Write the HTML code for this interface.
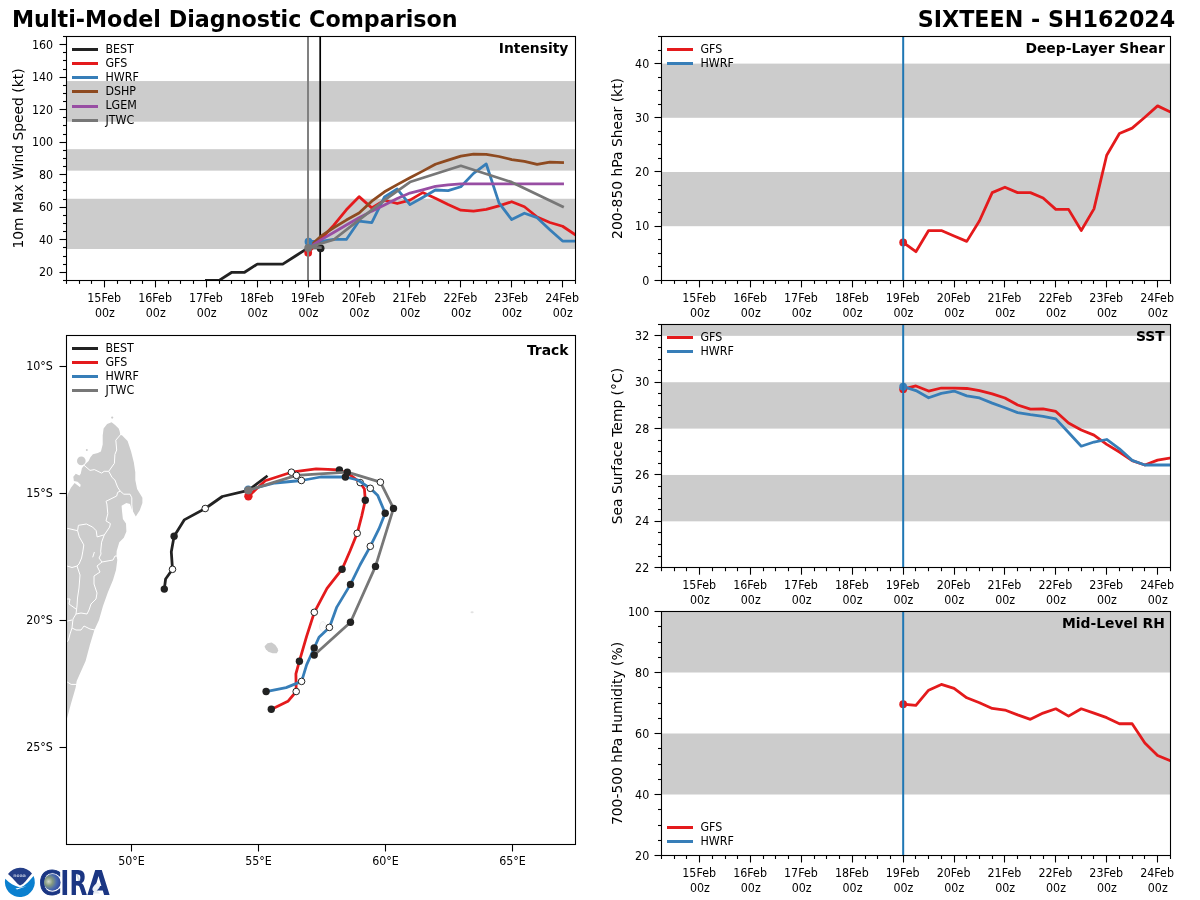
<!DOCTYPE html>
<html><head><meta charset="utf-8"><title>Multi-Model Diagnostic Comparison</title>
<style>html,body{margin:0;padding:0;background:#fff;}svg{display:block;}</style></head>
<body>
<svg width="1200" height="900" viewBox="0 0 1200 900" font-family="'DejaVu Sans', 'Liberation Sans', sans-serif">
<rect width="1200" height="900" fill="#fff"/>
<defs>
<clipPath id="c1"><rect x="66.5" y="36.5" width="508.79999999999995" height="243.89999999999998"/></clipPath>
<clipPath id="c3"><rect x="661.5" y="36.5" width="508.79999999999995" height="243.89999999999998"/></clipPath>
<clipPath id="c4"><rect x="661.5" y="324.5" width="508.79999999999995" height="243.20000000000005"/></clipPath>
<clipPath id="c5"><rect x="661.5" y="611.5" width="508.79999999999995" height="244.0"/></clipPath>
<clipPath id="c2"><rect x="66.5" y="335.5" width="508.8" height="508.8"/></clipPath>
</defs>
<text x="12.00" y="26.90" font-size="22.22" text-anchor="start" font-weight="bold" fill="#000">Multi-Model Diagnostic Comparison</text>
<text x="1175.30" y="26.90" font-size="22.22" text-anchor="end" font-weight="bold" fill="#000">SIXTEEN - SH162024</text>
<rect x="66.50" y="198.77" width="508.80" height="50.24" fill="#cccccc"/>
<rect x="66.50" y="149.18" width="508.80" height="21.46" fill="#cccccc"/>
<rect x="66.50" y="81.05" width="508.80" height="40.65" fill="#cccccc"/>
<g clip-path="url(#c1)">
<line x1="320.20" y1="36.50" x2="320.20" y2="280.40" stroke="#000" stroke-width="1.7" stroke-linecap="butt"/>
<polyline points="206.42,280.40 219.14,280.40 231.86,272.27 244.58,272.27 257.30,264.14 270.02,264.14 282.74,264.14 295.46,256.01 308.18,247.88 320.90,247.88" fill="none" stroke="#222222" stroke-width="2.78" stroke-linecap="square" stroke-linejoin="round"/>
<circle cx="320.60" cy="248.28" r="3.9" fill="#222222"/>
<polyline points="308.18,252.76 320.90,238.94 333.62,225.44 346.34,209.83 359.06,196.66 371.78,207.88 384.50,200.24 397.22,203.49 409.94,200.08 422.66,192.60 435.38,198.29 448.10,204.47 460.82,210.16 473.54,211.13 486.26,209.34 498.98,205.93 511.70,201.70 524.42,206.74 537.14,216.99 549.86,222.51 562.58,226.25 575.30,234.71" fill="none" stroke="#e41a1c" stroke-width="2.78" stroke-linecap="square" stroke-linejoin="round"/>
<polyline points="308.18,241.38 320.90,241.38 333.62,239.42 346.34,239.42 359.06,221.05 371.78,222.51 384.50,196.99 397.22,189.02 409.94,204.63 422.66,197.47 435.38,189.99 448.10,190.64 460.82,186.74 473.54,173.41 486.26,163.98 498.98,202.84 511.70,219.59 524.42,213.25 537.14,217.64 549.86,229.67 562.58,241.05 575.30,241.05" fill="none" stroke="#377eb8" stroke-width="2.78" stroke-linecap="square" stroke-linejoin="round"/>
<polyline points="308.18,247.88 320.90,236.17 333.62,227.72 346.34,220.08 359.06,213.08 371.78,201.21 384.50,191.78 397.22,184.63 409.94,177.80 422.66,171.13 435.38,164.30 448.10,160.08 460.82,156.17 473.54,154.22 486.26,154.38 498.98,156.50 511.70,159.59 524.42,161.38 537.14,164.47 549.86,162.03 562.58,162.51" fill="none" stroke="#8e4a20" stroke-width="2.78" stroke-linecap="square" stroke-linejoin="round"/>
<polyline points="308.18,247.88 320.90,239.91 333.62,232.43 346.34,224.95 359.06,217.80 371.78,211.13 384.50,204.95 397.22,198.45 409.94,193.08 422.66,189.83 435.38,186.42 448.10,184.79 460.82,183.82 473.54,183.82 486.26,183.82 498.98,183.82 511.70,183.82 524.42,183.82 537.14,183.82 549.86,183.82 562.58,183.82" fill="none" stroke="#984ea3" stroke-width="2.78" stroke-linecap="square" stroke-linejoin="round"/>
<polyline points="308.18,247.23 333.62,239.75 359.06,219.91 384.50,200.08 409.94,182.03 460.82,165.77 511.70,182.19 562.58,206.74" fill="none" stroke="#777777" stroke-width="2.78" stroke-linecap="square" stroke-linejoin="round"/>
<circle cx="308.18" cy="252.76" r="3.9" fill="#e41a1c"/>
<circle cx="308.48" cy="241.70" r="3.9" fill="#377eb8"/>
<line x1="308.00" y1="36.50" x2="308.00" y2="280.40" stroke="#808080" stroke-width="2.0" stroke-linecap="butt"/>
<polyline points="308.18,247.39 320.30,247.55" fill="none" stroke="#777777" stroke-width="2.78" stroke-linecap="square" stroke-linejoin="round"/>
<circle cx="308.18" cy="247.88" r="3.9" fill="#777777"/>
</g>
<rect x="66.50" y="36.50" width="509.00" height="244.00" fill="none" stroke="#000" stroke-width="1.1" stroke-linejoin="miter" stroke-linecap="square"/>
<line x1="66.50" y1="280.40" x2="66.50" y2="283.90" stroke="#000" stroke-width="1.1" stroke-linecap="butt"/>
<line x1="79.50" y1="280.40" x2="79.50" y2="283.90" stroke="#000" stroke-width="1.1" stroke-linecap="butt"/>
<line x1="91.50" y1="280.40" x2="91.50" y2="283.90" stroke="#000" stroke-width="1.1" stroke-linecap="butt"/>
<line x1="104.50" y1="280.40" x2="104.50" y2="287.40" stroke="#000" stroke-width="1.1" stroke-linecap="butt"/>
<line x1="117.50" y1="280.40" x2="117.50" y2="283.90" stroke="#000" stroke-width="1.1" stroke-linecap="butt"/>
<line x1="130.50" y1="280.40" x2="130.50" y2="283.90" stroke="#000" stroke-width="1.1" stroke-linecap="butt"/>
<line x1="142.50" y1="280.40" x2="142.50" y2="283.90" stroke="#000" stroke-width="1.1" stroke-linecap="butt"/>
<line x1="155.50" y1="280.40" x2="155.50" y2="287.40" stroke="#000" stroke-width="1.1" stroke-linecap="butt"/>
<line x1="168.50" y1="280.40" x2="168.50" y2="283.90" stroke="#000" stroke-width="1.1" stroke-linecap="butt"/>
<line x1="180.50" y1="280.40" x2="180.50" y2="283.90" stroke="#000" stroke-width="1.1" stroke-linecap="butt"/>
<line x1="193.50" y1="280.40" x2="193.50" y2="283.90" stroke="#000" stroke-width="1.1" stroke-linecap="butt"/>
<line x1="206.50" y1="280.40" x2="206.50" y2="287.40" stroke="#000" stroke-width="1.1" stroke-linecap="butt"/>
<line x1="219.50" y1="280.40" x2="219.50" y2="283.90" stroke="#000" stroke-width="1.1" stroke-linecap="butt"/>
<line x1="231.50" y1="280.40" x2="231.50" y2="283.90" stroke="#000" stroke-width="1.1" stroke-linecap="butt"/>
<line x1="244.50" y1="280.40" x2="244.50" y2="283.90" stroke="#000" stroke-width="1.1" stroke-linecap="butt"/>
<line x1="257.50" y1="280.40" x2="257.50" y2="287.40" stroke="#000" stroke-width="1.1" stroke-linecap="butt"/>
<line x1="270.50" y1="280.40" x2="270.50" y2="283.90" stroke="#000" stroke-width="1.1" stroke-linecap="butt"/>
<line x1="282.50" y1="280.40" x2="282.50" y2="283.90" stroke="#000" stroke-width="1.1" stroke-linecap="butt"/>
<line x1="295.50" y1="280.40" x2="295.50" y2="283.90" stroke="#000" stroke-width="1.1" stroke-linecap="butt"/>
<line x1="308.50" y1="280.40" x2="308.50" y2="287.40" stroke="#000" stroke-width="1.1" stroke-linecap="butt"/>
<line x1="320.50" y1="280.40" x2="320.50" y2="283.90" stroke="#000" stroke-width="1.1" stroke-linecap="butt"/>
<line x1="333.50" y1="280.40" x2="333.50" y2="283.90" stroke="#000" stroke-width="1.1" stroke-linecap="butt"/>
<line x1="346.50" y1="280.40" x2="346.50" y2="283.90" stroke="#000" stroke-width="1.1" stroke-linecap="butt"/>
<line x1="359.50" y1="280.40" x2="359.50" y2="287.40" stroke="#000" stroke-width="1.1" stroke-linecap="butt"/>
<line x1="371.50" y1="280.40" x2="371.50" y2="283.90" stroke="#000" stroke-width="1.1" stroke-linecap="butt"/>
<line x1="384.50" y1="280.40" x2="384.50" y2="283.90" stroke="#000" stroke-width="1.1" stroke-linecap="butt"/>
<line x1="397.50" y1="280.40" x2="397.50" y2="283.90" stroke="#000" stroke-width="1.1" stroke-linecap="butt"/>
<line x1="409.50" y1="280.40" x2="409.50" y2="287.40" stroke="#000" stroke-width="1.1" stroke-linecap="butt"/>
<line x1="422.50" y1="280.40" x2="422.50" y2="283.90" stroke="#000" stroke-width="1.1" stroke-linecap="butt"/>
<line x1="435.50" y1="280.40" x2="435.50" y2="283.90" stroke="#000" stroke-width="1.1" stroke-linecap="butt"/>
<line x1="448.50" y1="280.40" x2="448.50" y2="283.90" stroke="#000" stroke-width="1.1" stroke-linecap="butt"/>
<line x1="460.50" y1="280.40" x2="460.50" y2="287.40" stroke="#000" stroke-width="1.1" stroke-linecap="butt"/>
<line x1="473.50" y1="280.40" x2="473.50" y2="283.90" stroke="#000" stroke-width="1.1" stroke-linecap="butt"/>
<line x1="486.50" y1="280.40" x2="486.50" y2="283.90" stroke="#000" stroke-width="1.1" stroke-linecap="butt"/>
<line x1="498.50" y1="280.40" x2="498.50" y2="283.90" stroke="#000" stroke-width="1.1" stroke-linecap="butt"/>
<line x1="511.50" y1="280.40" x2="511.50" y2="287.40" stroke="#000" stroke-width="1.1" stroke-linecap="butt"/>
<line x1="524.50" y1="280.40" x2="524.50" y2="283.90" stroke="#000" stroke-width="1.1" stroke-linecap="butt"/>
<line x1="537.50" y1="280.40" x2="537.50" y2="283.90" stroke="#000" stroke-width="1.1" stroke-linecap="butt"/>
<line x1="549.50" y1="280.40" x2="549.50" y2="283.90" stroke="#000" stroke-width="1.1" stroke-linecap="butt"/>
<line x1="562.50" y1="280.40" x2="562.50" y2="287.40" stroke="#000" stroke-width="1.1" stroke-linecap="butt"/>
<line x1="575.50" y1="280.40" x2="575.50" y2="283.90" stroke="#000" stroke-width="1.1" stroke-linecap="butt"/>
<text transform="translate(104.16 301.60) scale(1 1.11)" font-size="11.11" text-anchor="middle" fill="#000">15Feb</text>
<text transform="translate(104.86 316.60) scale(1 1.11)" font-size="11.11" text-anchor="middle" fill="#000">00z</text>
<text transform="translate(155.04 301.60) scale(1 1.11)" font-size="11.11" text-anchor="middle" fill="#000">16Feb</text>
<text transform="translate(155.74 316.60) scale(1 1.11)" font-size="11.11" text-anchor="middle" fill="#000">00z</text>
<text transform="translate(205.92 301.60) scale(1 1.11)" font-size="11.11" text-anchor="middle" fill="#000">17Feb</text>
<text transform="translate(206.62 316.60) scale(1 1.11)" font-size="11.11" text-anchor="middle" fill="#000">00z</text>
<text transform="translate(256.80 301.60) scale(1 1.11)" font-size="11.11" text-anchor="middle" fill="#000">18Feb</text>
<text transform="translate(257.50 316.60) scale(1 1.11)" font-size="11.11" text-anchor="middle" fill="#000">00z</text>
<text transform="translate(307.68 301.60) scale(1 1.11)" font-size="11.11" text-anchor="middle" fill="#000">19Feb</text>
<text transform="translate(308.38 316.60) scale(1 1.11)" font-size="11.11" text-anchor="middle" fill="#000">00z</text>
<text transform="translate(358.56 301.60) scale(1 1.11)" font-size="11.11" text-anchor="middle" fill="#000">20Feb</text>
<text transform="translate(359.26 316.60) scale(1 1.11)" font-size="11.11" text-anchor="middle" fill="#000">00z</text>
<text transform="translate(409.44 301.60) scale(1 1.11)" font-size="11.11" text-anchor="middle" fill="#000">21Feb</text>
<text transform="translate(410.14 316.60) scale(1 1.11)" font-size="11.11" text-anchor="middle" fill="#000">00z</text>
<text transform="translate(460.32 301.60) scale(1 1.11)" font-size="11.11" text-anchor="middle" fill="#000">22Feb</text>
<text transform="translate(461.02 316.60) scale(1 1.11)" font-size="11.11" text-anchor="middle" fill="#000">00z</text>
<text transform="translate(511.20 301.60) scale(1 1.11)" font-size="11.11" text-anchor="middle" fill="#000">23Feb</text>
<text transform="translate(511.90 316.60) scale(1 1.11)" font-size="11.11" text-anchor="middle" fill="#000">00z</text>
<text transform="translate(562.08 301.60) scale(1 1.11)" font-size="11.11" text-anchor="middle" fill="#000">24Feb</text>
<text transform="translate(562.78 316.60) scale(1 1.11)" font-size="11.11" text-anchor="middle" fill="#000">00z</text>
<line x1="63.00" y1="280.50" x2="66.50" y2="280.50" stroke="#000" stroke-width="1.1" stroke-linecap="butt"/>
<line x1="59.50" y1="272.50" x2="66.50" y2="272.50" stroke="#000" stroke-width="1.1" stroke-linecap="butt"/>
<line x1="63.00" y1="264.50" x2="66.50" y2="264.50" stroke="#000" stroke-width="1.1" stroke-linecap="butt"/>
<line x1="63.00" y1="256.50" x2="66.50" y2="256.50" stroke="#000" stroke-width="1.1" stroke-linecap="butt"/>
<line x1="63.00" y1="247.50" x2="66.50" y2="247.50" stroke="#000" stroke-width="1.1" stroke-linecap="butt"/>
<line x1="59.50" y1="239.50" x2="66.50" y2="239.50" stroke="#000" stroke-width="1.1" stroke-linecap="butt"/>
<line x1="63.00" y1="231.50" x2="66.50" y2="231.50" stroke="#000" stroke-width="1.1" stroke-linecap="butt"/>
<line x1="63.00" y1="223.50" x2="66.50" y2="223.50" stroke="#000" stroke-width="1.1" stroke-linecap="butt"/>
<line x1="63.00" y1="215.50" x2="66.50" y2="215.50" stroke="#000" stroke-width="1.1" stroke-linecap="butt"/>
<line x1="59.50" y1="207.50" x2="66.50" y2="207.50" stroke="#000" stroke-width="1.1" stroke-linecap="butt"/>
<line x1="63.00" y1="199.50" x2="66.50" y2="199.50" stroke="#000" stroke-width="1.1" stroke-linecap="butt"/>
<line x1="63.00" y1="190.50" x2="66.50" y2="190.50" stroke="#000" stroke-width="1.1" stroke-linecap="butt"/>
<line x1="63.00" y1="182.50" x2="66.50" y2="182.50" stroke="#000" stroke-width="1.1" stroke-linecap="butt"/>
<line x1="59.50" y1="174.50" x2="66.50" y2="174.50" stroke="#000" stroke-width="1.1" stroke-linecap="butt"/>
<line x1="63.00" y1="166.50" x2="66.50" y2="166.50" stroke="#000" stroke-width="1.1" stroke-linecap="butt"/>
<line x1="63.00" y1="158.50" x2="66.50" y2="158.50" stroke="#000" stroke-width="1.1" stroke-linecap="butt"/>
<line x1="63.00" y1="150.50" x2="66.50" y2="150.50" stroke="#000" stroke-width="1.1" stroke-linecap="butt"/>
<line x1="59.50" y1="142.50" x2="66.50" y2="142.50" stroke="#000" stroke-width="1.1" stroke-linecap="butt"/>
<line x1="63.00" y1="134.50" x2="66.50" y2="134.50" stroke="#000" stroke-width="1.1" stroke-linecap="butt"/>
<line x1="63.00" y1="125.50" x2="66.50" y2="125.50" stroke="#000" stroke-width="1.1" stroke-linecap="butt"/>
<line x1="63.00" y1="117.50" x2="66.50" y2="117.50" stroke="#000" stroke-width="1.1" stroke-linecap="butt"/>
<line x1="59.50" y1="109.50" x2="66.50" y2="109.50" stroke="#000" stroke-width="1.1" stroke-linecap="butt"/>
<line x1="63.00" y1="101.50" x2="66.50" y2="101.50" stroke="#000" stroke-width="1.1" stroke-linecap="butt"/>
<line x1="63.00" y1="93.50" x2="66.50" y2="93.50" stroke="#000" stroke-width="1.1" stroke-linecap="butt"/>
<line x1="63.00" y1="85.50" x2="66.50" y2="85.50" stroke="#000" stroke-width="1.1" stroke-linecap="butt"/>
<line x1="59.50" y1="77.50" x2="66.50" y2="77.50" stroke="#000" stroke-width="1.1" stroke-linecap="butt"/>
<line x1="63.00" y1="69.50" x2="66.50" y2="69.50" stroke="#000" stroke-width="1.1" stroke-linecap="butt"/>
<line x1="63.00" y1="60.50" x2="66.50" y2="60.50" stroke="#000" stroke-width="1.1" stroke-linecap="butt"/>
<line x1="63.00" y1="52.50" x2="66.50" y2="52.50" stroke="#000" stroke-width="1.1" stroke-linecap="butt"/>
<line x1="59.50" y1="44.50" x2="66.50" y2="44.50" stroke="#000" stroke-width="1.1" stroke-linecap="butt"/>
<line x1="63.00" y1="36.50" x2="66.50" y2="36.50" stroke="#000" stroke-width="1.1" stroke-linecap="butt"/>
<text transform="translate(53.10 276.37) scale(1 1.11)" font-size="11.11" text-anchor="end" fill="#000">20</text>
<text transform="translate(53.10 243.85) scale(1 1.11)" font-size="11.11" text-anchor="end" fill="#000">40</text>
<text transform="translate(53.10 211.33) scale(1 1.11)" font-size="11.11" text-anchor="end" fill="#000">60</text>
<text transform="translate(53.10 178.81) scale(1 1.11)" font-size="11.11" text-anchor="end" fill="#000">80</text>
<text transform="translate(53.10 146.29) scale(1 1.11)" font-size="11.11" text-anchor="end" fill="#000">100</text>
<text transform="translate(53.10 113.77) scale(1 1.11)" font-size="11.11" text-anchor="end" fill="#000">120</text>
<text transform="translate(53.10 81.25) scale(1 1.11)" font-size="11.11" text-anchor="end" fill="#000">140</text>
<text transform="translate(53.10 48.73) scale(1 1.11)" font-size="11.11" text-anchor="end" fill="#000">160</text>
<text x="22.80" y="158.45" font-size="13.89" text-anchor="middle" fill="#000" transform="rotate(-90 22.80 158.45)">10m Max Wind Speed (kt)</text>
<text x="568.40" y="52.90" font-size="13.89" text-anchor="end" font-weight="bold" fill="#000">Intensity</text>
<line x1="73.50" y1="49.50" x2="96.50" y2="49.50" stroke="#222222" stroke-width="3.0" stroke-linecap="square"/>
<text transform="translate(105.40 52.80) scale(1 1.11)" font-size="11.11" text-anchor="start" fill="#000">BEST</text>
<line x1="73.50" y1="63.50" x2="96.50" y2="63.50" stroke="#e41a1c" stroke-width="3.0" stroke-linecap="square"/>
<text transform="translate(105.40 66.95) scale(1 1.11)" font-size="11.11" text-anchor="start" fill="#000">GFS</text>
<line x1="73.50" y1="77.50" x2="96.50" y2="77.50" stroke="#377eb8" stroke-width="3.0" stroke-linecap="square"/>
<text transform="translate(105.40 81.10) scale(1 1.11)" font-size="11.11" text-anchor="start" fill="#000">HWRF</text>
<line x1="73.50" y1="91.50" x2="96.50" y2="91.50" stroke="#8e4a20" stroke-width="3.0" stroke-linecap="square"/>
<text transform="translate(105.40 95.25) scale(1 1.11)" font-size="11.11" text-anchor="start" fill="#000">DSHP</text>
<line x1="73.50" y1="106.50" x2="96.50" y2="106.50" stroke="#984ea3" stroke-width="3.0" stroke-linecap="square"/>
<text transform="translate(105.40 109.40) scale(1 1.11)" font-size="11.11" text-anchor="start" fill="#000">LGEM</text>
<line x1="73.50" y1="120.50" x2="96.50" y2="120.50" stroke="#777777" stroke-width="3.0" stroke-linecap="square"/>
<text transform="translate(105.40 123.55) scale(1 1.11)" font-size="11.11" text-anchor="start" fill="#000">JTWC</text>
<rect x="661.50" y="172.00" width="508.80" height="54.20" fill="#cccccc"/>
<rect x="661.50" y="63.60" width="508.80" height="54.20" fill="#cccccc"/>
<g clip-path="url(#c3)">
<polyline points="903.18,242.46 915.90,251.67 928.62,230.54 941.34,230.54 954.06,235.96 966.78,241.38 979.50,220.78 992.22,192.60 1004.94,187.18 1017.66,192.60 1030.38,192.60 1043.10,198.02 1055.82,209.40 1068.54,209.40 1081.26,230.54 1093.98,208.86 1106.70,155.20 1119.42,133.52 1132.14,128.10 1144.86,117.26 1157.58,105.88 1170.30,111.84" fill="none" stroke="#e41a1c" stroke-width="2.78" stroke-linecap="square" stroke-linejoin="round"/>
<circle cx="903.18" cy="242.46" r="3.9" fill="#e41a1c"/>
<line x1="903.18" y1="36.50" x2="903.18" y2="280.40" stroke="#1f77b4" stroke-width="2.0" stroke-linecap="butt"/>
</g>
<rect x="661.50" y="36.50" width="509.00" height="244.00" fill="none" stroke="#000" stroke-width="1.1" stroke-linejoin="miter" stroke-linecap="square"/>
<line x1="661.50" y1="280.40" x2="661.50" y2="283.90" stroke="#000" stroke-width="1.1" stroke-linecap="butt"/>
<line x1="674.50" y1="280.40" x2="674.50" y2="283.90" stroke="#000" stroke-width="1.1" stroke-linecap="butt"/>
<line x1="686.50" y1="280.40" x2="686.50" y2="283.90" stroke="#000" stroke-width="1.1" stroke-linecap="butt"/>
<line x1="699.50" y1="280.40" x2="699.50" y2="287.40" stroke="#000" stroke-width="1.1" stroke-linecap="butt"/>
<line x1="712.50" y1="280.40" x2="712.50" y2="283.90" stroke="#000" stroke-width="1.1" stroke-linecap="butt"/>
<line x1="725.50" y1="280.40" x2="725.50" y2="283.90" stroke="#000" stroke-width="1.1" stroke-linecap="butt"/>
<line x1="737.50" y1="280.40" x2="737.50" y2="283.90" stroke="#000" stroke-width="1.1" stroke-linecap="butt"/>
<line x1="750.50" y1="280.40" x2="750.50" y2="287.40" stroke="#000" stroke-width="1.1" stroke-linecap="butt"/>
<line x1="763.50" y1="280.40" x2="763.50" y2="283.90" stroke="#000" stroke-width="1.1" stroke-linecap="butt"/>
<line x1="775.50" y1="280.40" x2="775.50" y2="283.90" stroke="#000" stroke-width="1.1" stroke-linecap="butt"/>
<line x1="788.50" y1="280.40" x2="788.50" y2="283.90" stroke="#000" stroke-width="1.1" stroke-linecap="butt"/>
<line x1="801.50" y1="280.40" x2="801.50" y2="287.40" stroke="#000" stroke-width="1.1" stroke-linecap="butt"/>
<line x1="814.50" y1="280.40" x2="814.50" y2="283.90" stroke="#000" stroke-width="1.1" stroke-linecap="butt"/>
<line x1="826.50" y1="280.40" x2="826.50" y2="283.90" stroke="#000" stroke-width="1.1" stroke-linecap="butt"/>
<line x1="839.50" y1="280.40" x2="839.50" y2="283.90" stroke="#000" stroke-width="1.1" stroke-linecap="butt"/>
<line x1="852.50" y1="280.40" x2="852.50" y2="287.40" stroke="#000" stroke-width="1.1" stroke-linecap="butt"/>
<line x1="865.50" y1="280.40" x2="865.50" y2="283.90" stroke="#000" stroke-width="1.1" stroke-linecap="butt"/>
<line x1="877.50" y1="280.40" x2="877.50" y2="283.90" stroke="#000" stroke-width="1.1" stroke-linecap="butt"/>
<line x1="890.50" y1="280.40" x2="890.50" y2="283.90" stroke="#000" stroke-width="1.1" stroke-linecap="butt"/>
<line x1="903.50" y1="280.40" x2="903.50" y2="287.40" stroke="#000" stroke-width="1.1" stroke-linecap="butt"/>
<line x1="915.50" y1="280.40" x2="915.50" y2="283.90" stroke="#000" stroke-width="1.1" stroke-linecap="butt"/>
<line x1="928.50" y1="280.40" x2="928.50" y2="283.90" stroke="#000" stroke-width="1.1" stroke-linecap="butt"/>
<line x1="941.50" y1="280.40" x2="941.50" y2="283.90" stroke="#000" stroke-width="1.1" stroke-linecap="butt"/>
<line x1="954.50" y1="280.40" x2="954.50" y2="287.40" stroke="#000" stroke-width="1.1" stroke-linecap="butt"/>
<line x1="966.50" y1="280.40" x2="966.50" y2="283.90" stroke="#000" stroke-width="1.1" stroke-linecap="butt"/>
<line x1="979.50" y1="280.40" x2="979.50" y2="283.90" stroke="#000" stroke-width="1.1" stroke-linecap="butt"/>
<line x1="992.50" y1="280.40" x2="992.50" y2="283.90" stroke="#000" stroke-width="1.1" stroke-linecap="butt"/>
<line x1="1004.50" y1="280.40" x2="1004.50" y2="287.40" stroke="#000" stroke-width="1.1" stroke-linecap="butt"/>
<line x1="1017.50" y1="280.40" x2="1017.50" y2="283.90" stroke="#000" stroke-width="1.1" stroke-linecap="butt"/>
<line x1="1030.50" y1="280.40" x2="1030.50" y2="283.90" stroke="#000" stroke-width="1.1" stroke-linecap="butt"/>
<line x1="1043.50" y1="280.40" x2="1043.50" y2="283.90" stroke="#000" stroke-width="1.1" stroke-linecap="butt"/>
<line x1="1055.50" y1="280.40" x2="1055.50" y2="287.40" stroke="#000" stroke-width="1.1" stroke-linecap="butt"/>
<line x1="1068.50" y1="280.40" x2="1068.50" y2="283.90" stroke="#000" stroke-width="1.1" stroke-linecap="butt"/>
<line x1="1081.50" y1="280.40" x2="1081.50" y2="283.90" stroke="#000" stroke-width="1.1" stroke-linecap="butt"/>
<line x1="1093.50" y1="280.40" x2="1093.50" y2="283.90" stroke="#000" stroke-width="1.1" stroke-linecap="butt"/>
<line x1="1106.50" y1="280.40" x2="1106.50" y2="287.40" stroke="#000" stroke-width="1.1" stroke-linecap="butt"/>
<line x1="1119.50" y1="280.40" x2="1119.50" y2="283.90" stroke="#000" stroke-width="1.1" stroke-linecap="butt"/>
<line x1="1132.50" y1="280.40" x2="1132.50" y2="283.90" stroke="#000" stroke-width="1.1" stroke-linecap="butt"/>
<line x1="1144.50" y1="280.40" x2="1144.50" y2="283.90" stroke="#000" stroke-width="1.1" stroke-linecap="butt"/>
<line x1="1157.50" y1="280.40" x2="1157.50" y2="287.40" stroke="#000" stroke-width="1.1" stroke-linecap="butt"/>
<line x1="1170.50" y1="280.40" x2="1170.50" y2="283.90" stroke="#000" stroke-width="1.1" stroke-linecap="butt"/>
<text transform="translate(699.16 301.60) scale(1 1.11)" font-size="11.11" text-anchor="middle" fill="#000">15Feb</text>
<text transform="translate(699.86 316.60) scale(1 1.11)" font-size="11.11" text-anchor="middle" fill="#000">00z</text>
<text transform="translate(750.04 301.60) scale(1 1.11)" font-size="11.11" text-anchor="middle" fill="#000">16Feb</text>
<text transform="translate(750.74 316.60) scale(1 1.11)" font-size="11.11" text-anchor="middle" fill="#000">00z</text>
<text transform="translate(800.92 301.60) scale(1 1.11)" font-size="11.11" text-anchor="middle" fill="#000">17Feb</text>
<text transform="translate(801.62 316.60) scale(1 1.11)" font-size="11.11" text-anchor="middle" fill="#000">00z</text>
<text transform="translate(851.80 301.60) scale(1 1.11)" font-size="11.11" text-anchor="middle" fill="#000">18Feb</text>
<text transform="translate(852.50 316.60) scale(1 1.11)" font-size="11.11" text-anchor="middle" fill="#000">00z</text>
<text transform="translate(902.68 301.60) scale(1 1.11)" font-size="11.11" text-anchor="middle" fill="#000">19Feb</text>
<text transform="translate(903.38 316.60) scale(1 1.11)" font-size="11.11" text-anchor="middle" fill="#000">00z</text>
<text transform="translate(953.56 301.60) scale(1 1.11)" font-size="11.11" text-anchor="middle" fill="#000">20Feb</text>
<text transform="translate(954.26 316.60) scale(1 1.11)" font-size="11.11" text-anchor="middle" fill="#000">00z</text>
<text transform="translate(1004.44 301.60) scale(1 1.11)" font-size="11.11" text-anchor="middle" fill="#000">21Feb</text>
<text transform="translate(1005.14 316.60) scale(1 1.11)" font-size="11.11" text-anchor="middle" fill="#000">00z</text>
<text transform="translate(1055.32 301.60) scale(1 1.11)" font-size="11.11" text-anchor="middle" fill="#000">22Feb</text>
<text transform="translate(1056.02 316.60) scale(1 1.11)" font-size="11.11" text-anchor="middle" fill="#000">00z</text>
<text transform="translate(1106.20 301.60) scale(1 1.11)" font-size="11.11" text-anchor="middle" fill="#000">23Feb</text>
<text transform="translate(1106.90 316.60) scale(1 1.11)" font-size="11.11" text-anchor="middle" fill="#000">00z</text>
<text transform="translate(1157.08 301.60) scale(1 1.11)" font-size="11.11" text-anchor="middle" fill="#000">24Feb</text>
<text transform="translate(1157.78 316.60) scale(1 1.11)" font-size="11.11" text-anchor="middle" fill="#000">00z</text>
<line x1="654.50" y1="280.50" x2="661.50" y2="280.50" stroke="#000" stroke-width="1.1" stroke-linecap="butt"/>
<line x1="658.00" y1="266.50" x2="661.50" y2="266.50" stroke="#000" stroke-width="1.1" stroke-linecap="butt"/>
<line x1="658.00" y1="253.50" x2="661.50" y2="253.50" stroke="#000" stroke-width="1.1" stroke-linecap="butt"/>
<line x1="658.00" y1="239.50" x2="661.50" y2="239.50" stroke="#000" stroke-width="1.1" stroke-linecap="butt"/>
<line x1="654.50" y1="226.50" x2="661.50" y2="226.50" stroke="#000" stroke-width="1.1" stroke-linecap="butt"/>
<line x1="658.00" y1="212.50" x2="661.50" y2="212.50" stroke="#000" stroke-width="1.1" stroke-linecap="butt"/>
<line x1="658.00" y1="199.50" x2="661.50" y2="199.50" stroke="#000" stroke-width="1.1" stroke-linecap="butt"/>
<line x1="658.00" y1="185.50" x2="661.50" y2="185.50" stroke="#000" stroke-width="1.1" stroke-linecap="butt"/>
<line x1="654.50" y1="171.50" x2="661.50" y2="171.50" stroke="#000" stroke-width="1.1" stroke-linecap="butt"/>
<line x1="658.00" y1="158.50" x2="661.50" y2="158.50" stroke="#000" stroke-width="1.1" stroke-linecap="butt"/>
<line x1="658.00" y1="144.50" x2="661.50" y2="144.50" stroke="#000" stroke-width="1.1" stroke-linecap="butt"/>
<line x1="658.00" y1="131.50" x2="661.50" y2="131.50" stroke="#000" stroke-width="1.1" stroke-linecap="butt"/>
<line x1="654.50" y1="117.50" x2="661.50" y2="117.50" stroke="#000" stroke-width="1.1" stroke-linecap="butt"/>
<line x1="658.00" y1="104.50" x2="661.50" y2="104.50" stroke="#000" stroke-width="1.1" stroke-linecap="butt"/>
<line x1="658.00" y1="90.50" x2="661.50" y2="90.50" stroke="#000" stroke-width="1.1" stroke-linecap="butt"/>
<line x1="658.00" y1="77.50" x2="661.50" y2="77.50" stroke="#000" stroke-width="1.1" stroke-linecap="butt"/>
<line x1="654.50" y1="63.50" x2="661.50" y2="63.50" stroke="#000" stroke-width="1.1" stroke-linecap="butt"/>
<line x1="658.00" y1="50.50" x2="661.50" y2="50.50" stroke="#000" stroke-width="1.1" stroke-linecap="butt"/>
<line x1="658.00" y1="36.50" x2="661.50" y2="36.50" stroke="#000" stroke-width="1.1" stroke-linecap="butt"/>
<text transform="translate(649.24 284.50) scale(1 1.11)" font-size="11.11" text-anchor="end" fill="#000">0</text>
<text transform="translate(649.24 230.30) scale(1 1.11)" font-size="11.11" text-anchor="end" fill="#000">10</text>
<text transform="translate(649.24 176.10) scale(1 1.11)" font-size="11.11" text-anchor="end" fill="#000">20</text>
<text transform="translate(649.24 121.90) scale(1 1.11)" font-size="11.11" text-anchor="end" fill="#000">30</text>
<text transform="translate(649.24 67.70) scale(1 1.11)" font-size="11.11" text-anchor="end" fill="#000">40</text>
<text x="621.90" y="158.45" font-size="13.89" text-anchor="middle" fill="#000" transform="rotate(-90 621.90 158.45)">200-850 hPa Shear (kt)</text>
<text x="1164.80" y="52.90" font-size="13.89" text-anchor="end" font-weight="bold" fill="#000">Deep-Layer Shear</text>
<line x1="668.50" y1="49.50" x2="691.50" y2="49.50" stroke="#e41a1c" stroke-width="3.0" stroke-linecap="square"/>
<text transform="translate(700.40 52.80) scale(1 1.11)" font-size="11.11" text-anchor="start" fill="#000">GFS</text>
<line x1="668.50" y1="63.50" x2="691.50" y2="63.50" stroke="#377eb8" stroke-width="3.0" stroke-linecap="square"/>
<text transform="translate(700.40 66.95) scale(1 1.11)" font-size="11.11" text-anchor="start" fill="#000">HWRF</text>
<rect x="661.50" y="474.96" width="508.80" height="46.37" fill="#cccccc"/>
<rect x="661.50" y="382.23" width="508.80" height="46.37" fill="#cccccc"/>
<rect x="661.50" y="324.50" width="508.80" height="11.36" fill="#cccccc"/>
<g clip-path="url(#c4)">
<polyline points="903.18,389.18 915.90,385.94 928.62,391.04 941.34,388.02 954.06,388.02 966.78,388.49 979.50,390.57 992.22,393.82 1004.94,397.99 1017.66,404.95 1030.38,409.12 1043.10,408.89 1055.82,411.44 1068.54,423.03 1081.26,429.99 1093.98,435.09 1106.70,444.36 1119.42,452.01 1132.14,460.59 1144.86,464.99 1157.58,460.13 1170.30,458.04" fill="none" stroke="#e41a1c" stroke-width="2.78" stroke-linecap="square" stroke-linejoin="round"/>
<polyline points="903.18,386.63 915.90,390.57 928.62,397.76 941.34,393.36 954.06,391.04 966.78,395.91 979.50,397.99 992.22,403.09 1004.94,407.73 1017.66,412.60 1030.38,414.69 1043.10,416.31 1055.82,418.86 1068.54,432.54 1081.26,446.22 1093.98,442.04 1106.70,439.49 1119.42,448.77 1132.14,460.36 1144.86,464.99 1157.58,464.99 1170.30,464.99" fill="none" stroke="#377eb8" stroke-width="2.78" stroke-linecap="square" stroke-linejoin="round"/>
<circle cx="903.18" cy="389.18" r="3.9" fill="#e41a1c"/>
<circle cx="903.18" cy="386.63" r="3.9" fill="#377eb8"/>
<line x1="903.18" y1="324.50" x2="903.18" y2="567.70" stroke="#1f77b4" stroke-width="2.0" stroke-linecap="butt"/>
</g>
<rect x="661.50" y="324.50" width="509.00" height="243.00" fill="none" stroke="#000" stroke-width="1.1" stroke-linejoin="miter" stroke-linecap="square"/>
<line x1="661.50" y1="567.70" x2="661.50" y2="571.20" stroke="#000" stroke-width="1.1" stroke-linecap="butt"/>
<line x1="674.50" y1="567.70" x2="674.50" y2="571.20" stroke="#000" stroke-width="1.1" stroke-linecap="butt"/>
<line x1="686.50" y1="567.70" x2="686.50" y2="571.20" stroke="#000" stroke-width="1.1" stroke-linecap="butt"/>
<line x1="699.50" y1="567.70" x2="699.50" y2="574.70" stroke="#000" stroke-width="1.1" stroke-linecap="butt"/>
<line x1="712.50" y1="567.70" x2="712.50" y2="571.20" stroke="#000" stroke-width="1.1" stroke-linecap="butt"/>
<line x1="725.50" y1="567.70" x2="725.50" y2="571.20" stroke="#000" stroke-width="1.1" stroke-linecap="butt"/>
<line x1="737.50" y1="567.70" x2="737.50" y2="571.20" stroke="#000" stroke-width="1.1" stroke-linecap="butt"/>
<line x1="750.50" y1="567.70" x2="750.50" y2="574.70" stroke="#000" stroke-width="1.1" stroke-linecap="butt"/>
<line x1="763.50" y1="567.70" x2="763.50" y2="571.20" stroke="#000" stroke-width="1.1" stroke-linecap="butt"/>
<line x1="775.50" y1="567.70" x2="775.50" y2="571.20" stroke="#000" stroke-width="1.1" stroke-linecap="butt"/>
<line x1="788.50" y1="567.70" x2="788.50" y2="571.20" stroke="#000" stroke-width="1.1" stroke-linecap="butt"/>
<line x1="801.50" y1="567.70" x2="801.50" y2="574.70" stroke="#000" stroke-width="1.1" stroke-linecap="butt"/>
<line x1="814.50" y1="567.70" x2="814.50" y2="571.20" stroke="#000" stroke-width="1.1" stroke-linecap="butt"/>
<line x1="826.50" y1="567.70" x2="826.50" y2="571.20" stroke="#000" stroke-width="1.1" stroke-linecap="butt"/>
<line x1="839.50" y1="567.70" x2="839.50" y2="571.20" stroke="#000" stroke-width="1.1" stroke-linecap="butt"/>
<line x1="852.50" y1="567.70" x2="852.50" y2="574.70" stroke="#000" stroke-width="1.1" stroke-linecap="butt"/>
<line x1="865.50" y1="567.70" x2="865.50" y2="571.20" stroke="#000" stroke-width="1.1" stroke-linecap="butt"/>
<line x1="877.50" y1="567.70" x2="877.50" y2="571.20" stroke="#000" stroke-width="1.1" stroke-linecap="butt"/>
<line x1="890.50" y1="567.70" x2="890.50" y2="571.20" stroke="#000" stroke-width="1.1" stroke-linecap="butt"/>
<line x1="903.50" y1="567.70" x2="903.50" y2="574.70" stroke="#000" stroke-width="1.1" stroke-linecap="butt"/>
<line x1="915.50" y1="567.70" x2="915.50" y2="571.20" stroke="#000" stroke-width="1.1" stroke-linecap="butt"/>
<line x1="928.50" y1="567.70" x2="928.50" y2="571.20" stroke="#000" stroke-width="1.1" stroke-linecap="butt"/>
<line x1="941.50" y1="567.70" x2="941.50" y2="571.20" stroke="#000" stroke-width="1.1" stroke-linecap="butt"/>
<line x1="954.50" y1="567.70" x2="954.50" y2="574.70" stroke="#000" stroke-width="1.1" stroke-linecap="butt"/>
<line x1="966.50" y1="567.70" x2="966.50" y2="571.20" stroke="#000" stroke-width="1.1" stroke-linecap="butt"/>
<line x1="979.50" y1="567.70" x2="979.50" y2="571.20" stroke="#000" stroke-width="1.1" stroke-linecap="butt"/>
<line x1="992.50" y1="567.70" x2="992.50" y2="571.20" stroke="#000" stroke-width="1.1" stroke-linecap="butt"/>
<line x1="1004.50" y1="567.70" x2="1004.50" y2="574.70" stroke="#000" stroke-width="1.1" stroke-linecap="butt"/>
<line x1="1017.50" y1="567.70" x2="1017.50" y2="571.20" stroke="#000" stroke-width="1.1" stroke-linecap="butt"/>
<line x1="1030.50" y1="567.70" x2="1030.50" y2="571.20" stroke="#000" stroke-width="1.1" stroke-linecap="butt"/>
<line x1="1043.50" y1="567.70" x2="1043.50" y2="571.20" stroke="#000" stroke-width="1.1" stroke-linecap="butt"/>
<line x1="1055.50" y1="567.70" x2="1055.50" y2="574.70" stroke="#000" stroke-width="1.1" stroke-linecap="butt"/>
<line x1="1068.50" y1="567.70" x2="1068.50" y2="571.20" stroke="#000" stroke-width="1.1" stroke-linecap="butt"/>
<line x1="1081.50" y1="567.70" x2="1081.50" y2="571.20" stroke="#000" stroke-width="1.1" stroke-linecap="butt"/>
<line x1="1093.50" y1="567.70" x2="1093.50" y2="571.20" stroke="#000" stroke-width="1.1" stroke-linecap="butt"/>
<line x1="1106.50" y1="567.70" x2="1106.50" y2="574.70" stroke="#000" stroke-width="1.1" stroke-linecap="butt"/>
<line x1="1119.50" y1="567.70" x2="1119.50" y2="571.20" stroke="#000" stroke-width="1.1" stroke-linecap="butt"/>
<line x1="1132.50" y1="567.70" x2="1132.50" y2="571.20" stroke="#000" stroke-width="1.1" stroke-linecap="butt"/>
<line x1="1144.50" y1="567.70" x2="1144.50" y2="571.20" stroke="#000" stroke-width="1.1" stroke-linecap="butt"/>
<line x1="1157.50" y1="567.70" x2="1157.50" y2="574.70" stroke="#000" stroke-width="1.1" stroke-linecap="butt"/>
<line x1="1170.50" y1="567.70" x2="1170.50" y2="571.20" stroke="#000" stroke-width="1.1" stroke-linecap="butt"/>
<text transform="translate(699.16 588.90) scale(1 1.11)" font-size="11.11" text-anchor="middle" fill="#000">15Feb</text>
<text transform="translate(699.86 603.90) scale(1 1.11)" font-size="11.11" text-anchor="middle" fill="#000">00z</text>
<text transform="translate(750.04 588.90) scale(1 1.11)" font-size="11.11" text-anchor="middle" fill="#000">16Feb</text>
<text transform="translate(750.74 603.90) scale(1 1.11)" font-size="11.11" text-anchor="middle" fill="#000">00z</text>
<text transform="translate(800.92 588.90) scale(1 1.11)" font-size="11.11" text-anchor="middle" fill="#000">17Feb</text>
<text transform="translate(801.62 603.90) scale(1 1.11)" font-size="11.11" text-anchor="middle" fill="#000">00z</text>
<text transform="translate(851.80 588.90) scale(1 1.11)" font-size="11.11" text-anchor="middle" fill="#000">18Feb</text>
<text transform="translate(852.50 603.90) scale(1 1.11)" font-size="11.11" text-anchor="middle" fill="#000">00z</text>
<text transform="translate(902.68 588.90) scale(1 1.11)" font-size="11.11" text-anchor="middle" fill="#000">19Feb</text>
<text transform="translate(903.38 603.90) scale(1 1.11)" font-size="11.11" text-anchor="middle" fill="#000">00z</text>
<text transform="translate(953.56 588.90) scale(1 1.11)" font-size="11.11" text-anchor="middle" fill="#000">20Feb</text>
<text transform="translate(954.26 603.90) scale(1 1.11)" font-size="11.11" text-anchor="middle" fill="#000">00z</text>
<text transform="translate(1004.44 588.90) scale(1 1.11)" font-size="11.11" text-anchor="middle" fill="#000">21Feb</text>
<text transform="translate(1005.14 603.90) scale(1 1.11)" font-size="11.11" text-anchor="middle" fill="#000">00z</text>
<text transform="translate(1055.32 588.90) scale(1 1.11)" font-size="11.11" text-anchor="middle" fill="#000">22Feb</text>
<text transform="translate(1056.02 603.90) scale(1 1.11)" font-size="11.11" text-anchor="middle" fill="#000">00z</text>
<text transform="translate(1106.20 588.90) scale(1 1.11)" font-size="11.11" text-anchor="middle" fill="#000">23Feb</text>
<text transform="translate(1106.90 603.90) scale(1 1.11)" font-size="11.11" text-anchor="middle" fill="#000">00z</text>
<text transform="translate(1157.08 588.90) scale(1 1.11)" font-size="11.11" text-anchor="middle" fill="#000">24Feb</text>
<text transform="translate(1157.78 603.90) scale(1 1.11)" font-size="11.11" text-anchor="middle" fill="#000">00z</text>
<line x1="654.50" y1="567.50" x2="661.50" y2="567.50" stroke="#000" stroke-width="1.1" stroke-linecap="butt"/>
<line x1="658.00" y1="556.50" x2="661.50" y2="556.50" stroke="#000" stroke-width="1.1" stroke-linecap="butt"/>
<line x1="658.00" y1="544.50" x2="661.50" y2="544.50" stroke="#000" stroke-width="1.1" stroke-linecap="butt"/>
<line x1="658.00" y1="532.50" x2="661.50" y2="532.50" stroke="#000" stroke-width="1.1" stroke-linecap="butt"/>
<line x1="654.50" y1="521.50" x2="661.50" y2="521.50" stroke="#000" stroke-width="1.1" stroke-linecap="butt"/>
<line x1="658.00" y1="509.50" x2="661.50" y2="509.50" stroke="#000" stroke-width="1.1" stroke-linecap="butt"/>
<line x1="658.00" y1="498.50" x2="661.50" y2="498.50" stroke="#000" stroke-width="1.1" stroke-linecap="butt"/>
<line x1="658.00" y1="486.50" x2="661.50" y2="486.50" stroke="#000" stroke-width="1.1" stroke-linecap="butt"/>
<line x1="654.50" y1="474.50" x2="661.50" y2="474.50" stroke="#000" stroke-width="1.1" stroke-linecap="butt"/>
<line x1="658.00" y1="463.50" x2="661.50" y2="463.50" stroke="#000" stroke-width="1.1" stroke-linecap="butt"/>
<line x1="658.00" y1="451.50" x2="661.50" y2="451.50" stroke="#000" stroke-width="1.1" stroke-linecap="butt"/>
<line x1="658.00" y1="440.50" x2="661.50" y2="440.50" stroke="#000" stroke-width="1.1" stroke-linecap="butt"/>
<line x1="654.50" y1="428.50" x2="661.50" y2="428.50" stroke="#000" stroke-width="1.1" stroke-linecap="butt"/>
<line x1="658.00" y1="417.50" x2="661.50" y2="417.50" stroke="#000" stroke-width="1.1" stroke-linecap="butt"/>
<line x1="658.00" y1="405.50" x2="661.50" y2="405.50" stroke="#000" stroke-width="1.1" stroke-linecap="butt"/>
<line x1="658.00" y1="393.50" x2="661.50" y2="393.50" stroke="#000" stroke-width="1.1" stroke-linecap="butt"/>
<line x1="654.50" y1="382.50" x2="661.50" y2="382.50" stroke="#000" stroke-width="1.1" stroke-linecap="butt"/>
<line x1="658.00" y1="370.50" x2="661.50" y2="370.50" stroke="#000" stroke-width="1.1" stroke-linecap="butt"/>
<line x1="658.00" y1="359.50" x2="661.50" y2="359.50" stroke="#000" stroke-width="1.1" stroke-linecap="butt"/>
<line x1="658.00" y1="347.50" x2="661.50" y2="347.50" stroke="#000" stroke-width="1.1" stroke-linecap="butt"/>
<line x1="654.50" y1="335.50" x2="661.50" y2="335.50" stroke="#000" stroke-width="1.1" stroke-linecap="butt"/>
<line x1="658.00" y1="324.50" x2="661.50" y2="324.50" stroke="#000" stroke-width="1.1" stroke-linecap="butt"/>
<text transform="translate(649.24 571.80) scale(1 1.11)" font-size="11.11" text-anchor="end" fill="#000">22</text>
<text transform="translate(649.24 525.43) scale(1 1.11)" font-size="11.11" text-anchor="end" fill="#000">24</text>
<text transform="translate(649.24 479.06) scale(1 1.11)" font-size="11.11" text-anchor="end" fill="#000">26</text>
<text transform="translate(649.24 432.70) scale(1 1.11)" font-size="11.11" text-anchor="end" fill="#000">28</text>
<text transform="translate(649.24 386.33) scale(1 1.11)" font-size="11.11" text-anchor="end" fill="#000">30</text>
<text transform="translate(649.24 339.96) scale(1 1.11)" font-size="11.11" text-anchor="end" fill="#000">32</text>
<text x="621.90" y="446.10" font-size="13.89" text-anchor="middle" fill="#000" transform="rotate(-90 621.90 446.10)">Sea Surface Temp (°C)</text>
<text x="1164.80" y="340.85" font-size="13.89" text-anchor="end" font-weight="bold" fill="#000">SST</text>
<line x1="668.50" y1="337.50" x2="691.50" y2="337.50" stroke="#e41a1c" stroke-width="3.0" stroke-linecap="square"/>
<text transform="translate(700.40 340.80) scale(1 1.11)" font-size="11.11" text-anchor="start" fill="#000">GFS</text>
<line x1="668.50" y1="351.50" x2="691.50" y2="351.50" stroke="#377eb8" stroke-width="3.0" stroke-linecap="square"/>
<text transform="translate(700.40 354.95) scale(1 1.11)" font-size="11.11" text-anchor="start" fill="#000">HWRF</text>
<rect x="661.50" y="733.50" width="508.80" height="61.00" fill="#cccccc"/>
<rect x="661.50" y="611.50" width="508.80" height="61.00" fill="#cccccc"/>
<g clip-path="url(#c5)">
<polyline points="903.18,704.22 915.90,705.44 928.62,690.19 941.34,684.39 954.06,688.36 966.78,697.82 979.50,702.70 992.22,708.49 1004.94,710.01 1017.66,714.89 1030.38,719.32 1043.10,713.07 1055.82,708.80 1068.54,716.12 1081.26,708.80 1093.98,713.07 1106.70,717.64 1119.42,723.74 1132.14,723.74 1144.86,742.96 1157.58,755.46 1170.30,760.64" fill="none" stroke="#e41a1c" stroke-width="2.78" stroke-linecap="square" stroke-linejoin="round"/>
<circle cx="903.18" cy="704.22" r="3.9" fill="#e41a1c"/>
<line x1="903.18" y1="611.50" x2="903.18" y2="855.50" stroke="#1f77b4" stroke-width="2.0" stroke-linecap="butt"/>
</g>
<rect x="661.50" y="611.50" width="509.00" height="244.00" fill="none" stroke="#000" stroke-width="1.1" stroke-linejoin="miter" stroke-linecap="square"/>
<line x1="661.50" y1="855.50" x2="661.50" y2="859.00" stroke="#000" stroke-width="1.1" stroke-linecap="butt"/>
<line x1="674.50" y1="855.50" x2="674.50" y2="859.00" stroke="#000" stroke-width="1.1" stroke-linecap="butt"/>
<line x1="686.50" y1="855.50" x2="686.50" y2="859.00" stroke="#000" stroke-width="1.1" stroke-linecap="butt"/>
<line x1="699.50" y1="855.50" x2="699.50" y2="862.50" stroke="#000" stroke-width="1.1" stroke-linecap="butt"/>
<line x1="712.50" y1="855.50" x2="712.50" y2="859.00" stroke="#000" stroke-width="1.1" stroke-linecap="butt"/>
<line x1="725.50" y1="855.50" x2="725.50" y2="859.00" stroke="#000" stroke-width="1.1" stroke-linecap="butt"/>
<line x1="737.50" y1="855.50" x2="737.50" y2="859.00" stroke="#000" stroke-width="1.1" stroke-linecap="butt"/>
<line x1="750.50" y1="855.50" x2="750.50" y2="862.50" stroke="#000" stroke-width="1.1" stroke-linecap="butt"/>
<line x1="763.50" y1="855.50" x2="763.50" y2="859.00" stroke="#000" stroke-width="1.1" stroke-linecap="butt"/>
<line x1="775.50" y1="855.50" x2="775.50" y2="859.00" stroke="#000" stroke-width="1.1" stroke-linecap="butt"/>
<line x1="788.50" y1="855.50" x2="788.50" y2="859.00" stroke="#000" stroke-width="1.1" stroke-linecap="butt"/>
<line x1="801.50" y1="855.50" x2="801.50" y2="862.50" stroke="#000" stroke-width="1.1" stroke-linecap="butt"/>
<line x1="814.50" y1="855.50" x2="814.50" y2="859.00" stroke="#000" stroke-width="1.1" stroke-linecap="butt"/>
<line x1="826.50" y1="855.50" x2="826.50" y2="859.00" stroke="#000" stroke-width="1.1" stroke-linecap="butt"/>
<line x1="839.50" y1="855.50" x2="839.50" y2="859.00" stroke="#000" stroke-width="1.1" stroke-linecap="butt"/>
<line x1="852.50" y1="855.50" x2="852.50" y2="862.50" stroke="#000" stroke-width="1.1" stroke-linecap="butt"/>
<line x1="865.50" y1="855.50" x2="865.50" y2="859.00" stroke="#000" stroke-width="1.1" stroke-linecap="butt"/>
<line x1="877.50" y1="855.50" x2="877.50" y2="859.00" stroke="#000" stroke-width="1.1" stroke-linecap="butt"/>
<line x1="890.50" y1="855.50" x2="890.50" y2="859.00" stroke="#000" stroke-width="1.1" stroke-linecap="butt"/>
<line x1="903.50" y1="855.50" x2="903.50" y2="862.50" stroke="#000" stroke-width="1.1" stroke-linecap="butt"/>
<line x1="915.50" y1="855.50" x2="915.50" y2="859.00" stroke="#000" stroke-width="1.1" stroke-linecap="butt"/>
<line x1="928.50" y1="855.50" x2="928.50" y2="859.00" stroke="#000" stroke-width="1.1" stroke-linecap="butt"/>
<line x1="941.50" y1="855.50" x2="941.50" y2="859.00" stroke="#000" stroke-width="1.1" stroke-linecap="butt"/>
<line x1="954.50" y1="855.50" x2="954.50" y2="862.50" stroke="#000" stroke-width="1.1" stroke-linecap="butt"/>
<line x1="966.50" y1="855.50" x2="966.50" y2="859.00" stroke="#000" stroke-width="1.1" stroke-linecap="butt"/>
<line x1="979.50" y1="855.50" x2="979.50" y2="859.00" stroke="#000" stroke-width="1.1" stroke-linecap="butt"/>
<line x1="992.50" y1="855.50" x2="992.50" y2="859.00" stroke="#000" stroke-width="1.1" stroke-linecap="butt"/>
<line x1="1004.50" y1="855.50" x2="1004.50" y2="862.50" stroke="#000" stroke-width="1.1" stroke-linecap="butt"/>
<line x1="1017.50" y1="855.50" x2="1017.50" y2="859.00" stroke="#000" stroke-width="1.1" stroke-linecap="butt"/>
<line x1="1030.50" y1="855.50" x2="1030.50" y2="859.00" stroke="#000" stroke-width="1.1" stroke-linecap="butt"/>
<line x1="1043.50" y1="855.50" x2="1043.50" y2="859.00" stroke="#000" stroke-width="1.1" stroke-linecap="butt"/>
<line x1="1055.50" y1="855.50" x2="1055.50" y2="862.50" stroke="#000" stroke-width="1.1" stroke-linecap="butt"/>
<line x1="1068.50" y1="855.50" x2="1068.50" y2="859.00" stroke="#000" stroke-width="1.1" stroke-linecap="butt"/>
<line x1="1081.50" y1="855.50" x2="1081.50" y2="859.00" stroke="#000" stroke-width="1.1" stroke-linecap="butt"/>
<line x1="1093.50" y1="855.50" x2="1093.50" y2="859.00" stroke="#000" stroke-width="1.1" stroke-linecap="butt"/>
<line x1="1106.50" y1="855.50" x2="1106.50" y2="862.50" stroke="#000" stroke-width="1.1" stroke-linecap="butt"/>
<line x1="1119.50" y1="855.50" x2="1119.50" y2="859.00" stroke="#000" stroke-width="1.1" stroke-linecap="butt"/>
<line x1="1132.50" y1="855.50" x2="1132.50" y2="859.00" stroke="#000" stroke-width="1.1" stroke-linecap="butt"/>
<line x1="1144.50" y1="855.50" x2="1144.50" y2="859.00" stroke="#000" stroke-width="1.1" stroke-linecap="butt"/>
<line x1="1157.50" y1="855.50" x2="1157.50" y2="862.50" stroke="#000" stroke-width="1.1" stroke-linecap="butt"/>
<line x1="1170.50" y1="855.50" x2="1170.50" y2="859.00" stroke="#000" stroke-width="1.1" stroke-linecap="butt"/>
<text transform="translate(699.16 876.70) scale(1 1.11)" font-size="11.11" text-anchor="middle" fill="#000">15Feb</text>
<text transform="translate(699.86 891.70) scale(1 1.11)" font-size="11.11" text-anchor="middle" fill="#000">00z</text>
<text transform="translate(750.04 876.70) scale(1 1.11)" font-size="11.11" text-anchor="middle" fill="#000">16Feb</text>
<text transform="translate(750.74 891.70) scale(1 1.11)" font-size="11.11" text-anchor="middle" fill="#000">00z</text>
<text transform="translate(800.92 876.70) scale(1 1.11)" font-size="11.11" text-anchor="middle" fill="#000">17Feb</text>
<text transform="translate(801.62 891.70) scale(1 1.11)" font-size="11.11" text-anchor="middle" fill="#000">00z</text>
<text transform="translate(851.80 876.70) scale(1 1.11)" font-size="11.11" text-anchor="middle" fill="#000">18Feb</text>
<text transform="translate(852.50 891.70) scale(1 1.11)" font-size="11.11" text-anchor="middle" fill="#000">00z</text>
<text transform="translate(902.68 876.70) scale(1 1.11)" font-size="11.11" text-anchor="middle" fill="#000">19Feb</text>
<text transform="translate(903.38 891.70) scale(1 1.11)" font-size="11.11" text-anchor="middle" fill="#000">00z</text>
<text transform="translate(953.56 876.70) scale(1 1.11)" font-size="11.11" text-anchor="middle" fill="#000">20Feb</text>
<text transform="translate(954.26 891.70) scale(1 1.11)" font-size="11.11" text-anchor="middle" fill="#000">00z</text>
<text transform="translate(1004.44 876.70) scale(1 1.11)" font-size="11.11" text-anchor="middle" fill="#000">21Feb</text>
<text transform="translate(1005.14 891.70) scale(1 1.11)" font-size="11.11" text-anchor="middle" fill="#000">00z</text>
<text transform="translate(1055.32 876.70) scale(1 1.11)" font-size="11.11" text-anchor="middle" fill="#000">22Feb</text>
<text transform="translate(1056.02 891.70) scale(1 1.11)" font-size="11.11" text-anchor="middle" fill="#000">00z</text>
<text transform="translate(1106.20 876.70) scale(1 1.11)" font-size="11.11" text-anchor="middle" fill="#000">23Feb</text>
<text transform="translate(1106.90 891.70) scale(1 1.11)" font-size="11.11" text-anchor="middle" fill="#000">00z</text>
<text transform="translate(1157.08 876.70) scale(1 1.11)" font-size="11.11" text-anchor="middle" fill="#000">24Feb</text>
<text transform="translate(1157.78 891.70) scale(1 1.11)" font-size="11.11" text-anchor="middle" fill="#000">00z</text>
<line x1="654.50" y1="855.50" x2="661.50" y2="855.50" stroke="#000" stroke-width="1.1" stroke-linecap="butt"/>
<line x1="658.00" y1="840.50" x2="661.50" y2="840.50" stroke="#000" stroke-width="1.1" stroke-linecap="butt"/>
<line x1="658.00" y1="825.50" x2="661.50" y2="825.50" stroke="#000" stroke-width="1.1" stroke-linecap="butt"/>
<line x1="658.00" y1="809.50" x2="661.50" y2="809.50" stroke="#000" stroke-width="1.1" stroke-linecap="butt"/>
<line x1="654.50" y1="794.50" x2="661.50" y2="794.50" stroke="#000" stroke-width="1.1" stroke-linecap="butt"/>
<line x1="658.00" y1="779.50" x2="661.50" y2="779.50" stroke="#000" stroke-width="1.1" stroke-linecap="butt"/>
<line x1="658.00" y1="764.50" x2="661.50" y2="764.50" stroke="#000" stroke-width="1.1" stroke-linecap="butt"/>
<line x1="658.00" y1="748.50" x2="661.50" y2="748.50" stroke="#000" stroke-width="1.1" stroke-linecap="butt"/>
<line x1="654.50" y1="733.50" x2="661.50" y2="733.50" stroke="#000" stroke-width="1.1" stroke-linecap="butt"/>
<line x1="658.00" y1="718.50" x2="661.50" y2="718.50" stroke="#000" stroke-width="1.1" stroke-linecap="butt"/>
<line x1="658.00" y1="703.50" x2="661.50" y2="703.50" stroke="#000" stroke-width="1.1" stroke-linecap="butt"/>
<line x1="658.00" y1="687.50" x2="661.50" y2="687.50" stroke="#000" stroke-width="1.1" stroke-linecap="butt"/>
<line x1="654.50" y1="672.50" x2="661.50" y2="672.50" stroke="#000" stroke-width="1.1" stroke-linecap="butt"/>
<line x1="658.00" y1="657.50" x2="661.50" y2="657.50" stroke="#000" stroke-width="1.1" stroke-linecap="butt"/>
<line x1="658.00" y1="642.50" x2="661.50" y2="642.50" stroke="#000" stroke-width="1.1" stroke-linecap="butt"/>
<line x1="658.00" y1="626.50" x2="661.50" y2="626.50" stroke="#000" stroke-width="1.1" stroke-linecap="butt"/>
<line x1="654.50" y1="611.50" x2="661.50" y2="611.50" stroke="#000" stroke-width="1.1" stroke-linecap="butt"/>
<text transform="translate(649.24 859.60) scale(1 1.11)" font-size="11.11" text-anchor="end" fill="#000">20</text>
<text transform="translate(649.24 798.60) scale(1 1.11)" font-size="11.11" text-anchor="end" fill="#000">40</text>
<text transform="translate(649.24 737.60) scale(1 1.11)" font-size="11.11" text-anchor="end" fill="#000">60</text>
<text transform="translate(649.24 676.60) scale(1 1.11)" font-size="11.11" text-anchor="end" fill="#000">80</text>
<text transform="translate(649.24 615.60) scale(1 1.11)" font-size="11.11" text-anchor="end" fill="#000">100</text>
<text x="621.90" y="733.50" font-size="13.89" text-anchor="middle" fill="#000" transform="rotate(-90 621.90 733.50)">700-500 hPa Humidity (%)</text>
<text x="1164.80" y="627.70" font-size="13.89" text-anchor="end" font-weight="bold" fill="#000">Mid-Level RH</text>
<line x1="668.50" y1="827.50" x2="691.50" y2="827.50" stroke="#e41a1c" stroke-width="3.0" stroke-linecap="square"/>
<text transform="translate(700.40 830.80) scale(1 1.11)" font-size="11.11" text-anchor="start" fill="#000">GFS</text>
<line x1="668.50" y1="841.50" x2="691.50" y2="841.50" stroke="#377eb8" stroke-width="3.0" stroke-linecap="square"/>
<text transform="translate(700.40 844.95) scale(1 1.11)" font-size="11.11" text-anchor="start" fill="#000">HWRF</text>
<g clip-path="url(#c2)">
<polygon points="40,760 67.2,717.8 71.1,703.3 75.6,687.8 76.7,681.1 85.6,661.1 90,644.4 94.4,630 99,620 103,606 108,592 113,580 116,570 117.3,560 116.5,555 116.7,551 119.3,542.2 123.8,537.8 126.4,531.6 126,523.6 122.9,519.1 122,511.1 121.6,505.8 126.4,503.1 130,504 131.8,509.3 135.8,516.4 139.8,510.2 142.4,503.1 142.4,497.8 137.1,488.9 135.3,480 135.3,472.2 133.8,462.2 131.1,451.6 127.6,440.9 122.2,435.6 120.4,434.7 119.6,431 118.7,428.4 115.1,424.9 111.6,422.2 107.1,424 103.6,428.4 102.7,435.6 102.7,444.4 100.9,451.6 97.8,452.9 92.9,454.2 90.4,457.2 88.6,460.9 86.2,463.3 84.3,465.2 81.9,468.2 80.7,473.7 79.4,475.6 75.8,473.7 73.3,476.8 73.9,481.1 77.6,481.7 80.7,484.7 80.1,487.2 74.6,482.9 70.9,487.8 67.8,493.9 67.2,497 40,520" fill="#cccccc"/>
<circle cx="81.30" cy="460.90" r="4.3" fill="#cccccc"/>
<circle cx="86.80" cy="449.90" r="1.0" fill="#cccccc"/>
<circle cx="112.20" cy="417.60" r="1.1" fill="#cccccc"/>
<polyline points="121.10,434.00 115.80,440.20 116.70,450.00 114.90,454.40 114.40,463.30 108.70,471.30 112.20,477.60 114.90,480.00 117.60,487.10 120.20,491.10 123.80,494.20 130.00,494.20 131.80,497.80 131.80,504.90 132.70,513.80" fill="none" stroke="#ffffff" stroke-width="1.0" stroke-linecap="butt" stroke-linejoin="round"/>
<polyline points="83.80,465.10 90.00,470.40 94.40,469.60 101.60,473.10 104.20,471.30 108.70,471.30" fill="none" stroke="#ffffff" stroke-width="1.0" stroke-linecap="butt" stroke-linejoin="round"/>
<polyline points="120.20,491.10 117.60,492.40 116.70,496.00 106.00,501.30 106.90,504.00 107.80,513.80 106.00,520.90 110.40,523.60 109.60,527.10 104.20,535.10 101.60,542.20 100.70,551.10 101.00,554.00 99.00,558.00 102.00,562.00 97.00,566.00 100.00,572.00 94.00,576.00 94.00,584.00 97.00,593.00 96.00,599.00 91.00,604.00 89.00,610.00 87.00,614.00 81.00,613.00 76.00,614.00" fill="none" stroke="#ffffff" stroke-width="1.0" stroke-linecap="butt" stroke-linejoin="round"/>
<polyline points="102.00,562.00 113.00,560.00 115.00,556.00 117.50,556.00" fill="none" stroke="#ffffff" stroke-width="1.0" stroke-linecap="butt" stroke-linejoin="round"/>
<polyline points="60.00,528.00 67.80,528.40 77.60,530.70 78.40,525.30 86.40,524.00 92.70,527.10 96.20,530.70 97.10,536.90 103.30,535.10 104.20,535.10" fill="none" stroke="#ffffff" stroke-width="1.0" stroke-linecap="butt" stroke-linejoin="round"/>
<polyline points="77.60,530.70 79.30,536.90 83.80,544.90 82.90,551.10 81.60,558.00 79.00,564.00 77.00,566.00 80.00,575.00 79.00,588.00 77.50,598.00 77.00,606.00 76.00,614.00 73.00,619.00 72.00,628.00 70.00,634.00 68.50,640.00 60.00,650.00" fill="none" stroke="#ffffff" stroke-width="1.0" stroke-linecap="butt" stroke-linejoin="round"/>
<polyline points="60.00,566.00 67.00,566.00 72.00,567.50 77.00,566.00" fill="none" stroke="#ffffff" stroke-width="1.0" stroke-linecap="butt" stroke-linejoin="round"/>
<polyline points="94.40,552.00 92.70,557.30" fill="none" stroke="#ffffff" stroke-width="1.0" stroke-linecap="butt" stroke-linejoin="round"/>
<polyline points="60.00,599.00 70.00,599.00 69.00,604.00 76.00,609.00" fill="none" stroke="#ffffff" stroke-width="1.0" stroke-linecap="butt" stroke-linejoin="round"/>
<polyline points="60.00,621.00 67.50,621.00 72.00,620.00" fill="none" stroke="#ffffff" stroke-width="1.0" stroke-linecap="butt" stroke-linejoin="round"/>
<polyline points="72.00,628.00 76.00,630.00 81.00,630.00 84.00,626.00 90.00,629.00 95.00,630.00" fill="none" stroke="#ffffff" stroke-width="1.0" stroke-linecap="butt" stroke-linejoin="round"/>
<polyline points="60.00,683.00 67.20,682.00 71.10,684.40 76.70,684.40" fill="none" stroke="#ffffff" stroke-width="1.0" stroke-linecap="butt" stroke-linejoin="round"/>
<polygon points="265,645.8 267.5,643.3 271.7,642.5 275.4,645 277.5,648.3 278.3,650.8 276.7,653.3 272.5,653.3 268.3,651.7 265.8,649.2 264.6,646.7" fill="#cccccc"/>
<ellipse cx="322.8" cy="626.5" rx="3.2" ry="5" fill="#fbfbfb" stroke="#e2e2e2" stroke-width="0.6"/>
<ellipse cx="472.1" cy="612.3" rx="1.6" ry="1.0" fill="#e2e2e2"/>
<polyline points="248.40,496.30 265.20,480.70 291.40,472.20 316.10,468.80 339.40,469.90 351.10,475.60 360.20,482.60 364.40,488.90 365.30,500.30 361.70,516.10 357.20,533.30 350.00,551.00 342.10,569.20 327.00,588.40 314.30,612.30 306.60,636.40 299.40,661.20 295.90,673.80 296.20,691.50 287.90,701.30 271.30,709.30" fill="none" stroke="#e41a1c" stroke-width="2.78" stroke-linecap="square" stroke-linejoin="round"/>
<circle cx="248.40" cy="496.30" r="4.2" fill="#e41a1c"/>
<circle cx="291.40" cy="472.20" r="3.3" fill="#ffffff" stroke="#222222" stroke-width="1.0"/>
<circle cx="339.40" cy="469.90" r="3.6999999999999997" fill="#222222"/>
<circle cx="360.20" cy="482.60" r="3.3" fill="#ffffff" stroke="#222222" stroke-width="1.0"/>
<circle cx="365.30" cy="500.30" r="3.6999999999999997" fill="#222222"/>
<circle cx="357.20" cy="533.30" r="3.3" fill="#ffffff" stroke="#222222" stroke-width="1.0"/>
<circle cx="342.10" cy="569.20" r="3.6999999999999997" fill="#222222"/>
<circle cx="314.30" cy="612.30" r="3.3" fill="#ffffff" stroke="#222222" stroke-width="1.0"/>
<circle cx="299.40" cy="661.20" r="3.6999999999999997" fill="#222222"/>
<circle cx="296.20" cy="691.50" r="3.3" fill="#ffffff" stroke="#222222" stroke-width="1.0"/>
<circle cx="271.30" cy="709.30" r="3.6999999999999997" fill="#222222"/>
<polyline points="248.20,489.80 274.90,483.00 301.40,480.50 320.70,477.00 345.40,477.00 357.80,480.00 370.30,488.30 377.80,495.60 385.20,513.20 378.90,528.90 370.30,546.30 360.00,565.00 350.50,584.40 336.80,607.10 329.40,627.40 319.00,637.30 314.20,648.00 306.60,664.90 301.60,681.40 286.10,687.60 266.10,691.50" fill="none" stroke="#377eb8" stroke-width="2.78" stroke-linecap="square" stroke-linejoin="round"/>
<circle cx="248.20" cy="489.80" r="4.2" fill="#377eb8"/>
<circle cx="301.40" cy="480.50" r="3.3" fill="#ffffff" stroke="#222222" stroke-width="1.0"/>
<circle cx="345.40" cy="477.00" r="3.6999999999999997" fill="#222222"/>
<circle cx="370.30" cy="488.30" r="3.3" fill="#ffffff" stroke="#222222" stroke-width="1.0"/>
<circle cx="385.20" cy="513.20" r="3.6999999999999997" fill="#222222"/>
<circle cx="370.30" cy="546.30" r="3.3" fill="#ffffff" stroke="#222222" stroke-width="1.0"/>
<circle cx="350.50" cy="584.40" r="3.6999999999999997" fill="#222222"/>
<circle cx="329.40" cy="627.40" r="3.3" fill="#ffffff" stroke="#222222" stroke-width="1.0"/>
<circle cx="314.20" cy="648.00" r="3.6999999999999997" fill="#222222"/>
<circle cx="301.60" cy="681.40" r="3.3" fill="#ffffff" stroke="#222222" stroke-width="1.0"/>
<circle cx="266.10" cy="691.50" r="3.6999999999999997" fill="#222222"/>
<polyline points="164.30,589.10 165.60,579.00 172.50,569.30 171.30,551.80 174.10,536.20 184.20,519.90 205.20,508.50 222.30,496.50 248.30,490.30 266.40,476.60" fill="none" stroke="#222222" stroke-width="2.78" stroke-linecap="square" stroke-linejoin="round"/>
<circle cx="164.30" cy="589.10" r="3.6999999999999997" fill="#222222"/>
<circle cx="172.50" cy="569.30" r="3.3" fill="#ffffff" stroke="#222222" stroke-width="1.0"/>
<circle cx="174.10" cy="536.20" r="3.6999999999999997" fill="#222222"/>
<circle cx="205.20" cy="508.50" r="3.3" fill="#ffffff" stroke="#222222" stroke-width="1.0"/>
<polyline points="248.30,490.30 296.40,475.40 347.30,472.20 380.40,482.20 393.50,508.40 375.50,566.40 350.50,622.20 314.20,655.10" fill="none" stroke="#777777" stroke-width="2.78" stroke-linecap="square" stroke-linejoin="round"/>
<circle cx="248.30" cy="490.30" r="4.1" fill="#777777"/>
<circle cx="296.40" cy="475.40" r="3.3" fill="#ffffff" stroke="#222222" stroke-width="1.0"/>
<circle cx="347.30" cy="472.20" r="3.6999999999999997" fill="#222222"/>
<circle cx="380.40" cy="482.20" r="3.3" fill="#ffffff" stroke="#222222" stroke-width="1.0"/>
<circle cx="393.50" cy="508.40" r="3.6999999999999997" fill="#222222"/>
<circle cx="375.50" cy="566.40" r="3.6999999999999997" fill="#222222"/>
<circle cx="350.50" cy="622.20" r="3.6999999999999997" fill="#222222"/>
<circle cx="314.20" cy="655.10" r="3.6999999999999997" fill="#222222"/>
</g>
<rect x="66.5" y="335.5" width="509.0" height="509.0" fill="none" stroke="#000" stroke-width="1.1"/>
<line x1="131.50" y1="844.50" x2="131.50" y2="851.50" stroke="#000" stroke-width="1.1" stroke-linecap="butt"/>
<text transform="translate(131.50 864.80) scale(1 1.11)" font-size="11.11" text-anchor="middle" fill="#000">50°E</text>
<line x1="258.50" y1="844.50" x2="258.50" y2="851.50" stroke="#000" stroke-width="1.1" stroke-linecap="butt"/>
<text transform="translate(258.50 864.80) scale(1 1.11)" font-size="11.11" text-anchor="middle" fill="#000">55°E</text>
<line x1="385.50" y1="844.50" x2="385.50" y2="851.50" stroke="#000" stroke-width="1.1" stroke-linecap="butt"/>
<text transform="translate(385.50 864.80) scale(1 1.11)" font-size="11.11" text-anchor="middle" fill="#000">60°E</text>
<line x1="512.50" y1="844.50" x2="512.50" y2="851.50" stroke="#000" stroke-width="1.1" stroke-linecap="butt"/>
<text transform="translate(512.50 864.80) scale(1 1.11)" font-size="11.11" text-anchor="middle" fill="#000">65°E</text>
<line x1="59.50" y1="366.50" x2="66.50" y2="366.50" stroke="#000" stroke-width="1.1" stroke-linecap="butt"/>
<text transform="translate(52.90 370.30) scale(1 1.11)" font-size="11.11" text-anchor="end" fill="#000">10°S</text>
<line x1="59.50" y1="493.50" x2="66.50" y2="493.50" stroke="#000" stroke-width="1.1" stroke-linecap="butt"/>
<text transform="translate(52.90 497.30) scale(1 1.11)" font-size="11.11" text-anchor="end" fill="#000">15°S</text>
<line x1="59.50" y1="620.50" x2="66.50" y2="620.50" stroke="#000" stroke-width="1.1" stroke-linecap="butt"/>
<text transform="translate(52.90 624.30) scale(1 1.11)" font-size="11.11" text-anchor="end" fill="#000">20°S</text>
<line x1="59.50" y1="747.50" x2="66.50" y2="747.50" stroke="#000" stroke-width="1.1" stroke-linecap="butt"/>
<text transform="translate(52.90 751.30) scale(1 1.11)" font-size="11.11" text-anchor="end" fill="#000">25°S</text>
<text x="568.50" y="355.00" font-size="13.89" text-anchor="end" font-weight="bold" fill="#000">Track</text>
<line x1="73.50" y1="348.50" x2="96.50" y2="348.50" stroke="#222222" stroke-width="3.0" stroke-linecap="square"/>
<text transform="translate(105.40 351.80) scale(1 1.11)" font-size="11.11" text-anchor="start" fill="#000">BEST</text>
<line x1="73.50" y1="362.50" x2="96.50" y2="362.50" stroke="#e41a1c" stroke-width="3.0" stroke-linecap="square"/>
<text transform="translate(105.40 365.95) scale(1 1.11)" font-size="11.11" text-anchor="start" fill="#000">GFS</text>
<line x1="73.50" y1="376.50" x2="96.50" y2="376.50" stroke="#377eb8" stroke-width="3.0" stroke-linecap="square"/>
<text transform="translate(105.40 380.10) scale(1 1.11)" font-size="11.11" text-anchor="start" fill="#000">HWRF</text>
<line x1="73.50" y1="390.50" x2="96.50" y2="390.50" stroke="#777777" stroke-width="3.0" stroke-linecap="square"/>
<text transform="translate(105.40 394.25) scale(1 1.11)" font-size="11.11" text-anchor="start" fill="#000">JTWC</text>
<g>
<defs>
<radialGradient id="earth" cx="0.28" cy="0.45" r="0.8"><stop offset="0" stop-color="#cfd6cc"/><stop offset="0.3" stop-color="#84997f"/><stop offset="0.62" stop-color="#4767b0"/><stop offset="1" stop-color="#2c3f92"/></radialGradient>
<linearGradient id="cira" x1="40" y1="0" x2="108" y2="0" gradientUnits="userSpaceOnUse"><stop offset="0" stop-color="#1b3683"/><stop offset="0.45" stop-color="#1f50a0"/><stop offset="1" stop-color="#2762b0"/></linearGradient>
</defs>
<path d="M 5.2 878.8 Q 9 882.6 12 884.3 Q 16.5 886.8 20 887.4 Q 24 886.3 28 882.2 L 33.6 876 A 15 15 0 1 1 5.2 878.8 Z" fill="#0b80cf"/>
<path d="M 8 874 Q 12 877.5 15 881 Q 18 884.6 20 885.6 Q 22.5 885 25.6 881.2 Q 29 877 32 873.6 A 15 15 0 0 0 8 874 Z" fill="#243e87"/>
<path d="M 15.5 888.6 Q 20 887.4 26.5 886.2 Q 21 888.2 17 889.4 Z" fill="#ffffff"/>
<text x="19.6" y="877.4" font-size="4.6" font-weight="bold" text-anchor="middle" fill="#b9c2da" font-family="'DejaVu Sans', sans-serif" textLength="12.6" lengthAdjust="spacingAndGlyphs">noaa</text>

<text transform="translate(38.8 894.6) scale(0.97 0.98)" x="0" y="0" font-size="33.5" fill="url(#cira)" stroke="#1b3683" stroke-width="1.0" font-family="'DejaVu Sans', sans-serif">C</text>
<text transform="translate(60.13 894.6) scale(0.731 1.01)" x="0" y="0" font-size="33.5" font-weight="bold" fill="url(#cira)" font-family="'DejaVu Sans', sans-serif">I</text>
<text transform="translate(69.46 894.6) scale(0.69 1.01)" x="0" y="0" font-size="33.5" font-weight="bold" fill="url(#cira)" font-family="'DejaVu Sans', sans-serif">R</text>
<text transform="translate(87.27 894.6) scale(0.868 1.01)" x="0" y="0" font-size="33.5" font-weight="bold" fill="url(#cira)" font-family="'DejaVu Sans', sans-serif">A</text>
<circle cx="52.3" cy="882.4" r="8.3" fill="url(#earth)"/>
<path d="M 75.8 874.3 L 77.2 873.8 L 80.3 880.2 L 78.8 881.2 Z" fill="#c9d3e3" opacity="0.85"/>
<ellipse cx="96.3" cy="887.3" rx="4.8" ry="2.7" transform="rotate(-50 96.3 887.3)" fill="#eef2f7"/>
<path d="M 95.2 889 L 100 893.6 L 93 893.6 Z" fill="#e6ecf3"/>
</g>
</svg>
</body></html>
